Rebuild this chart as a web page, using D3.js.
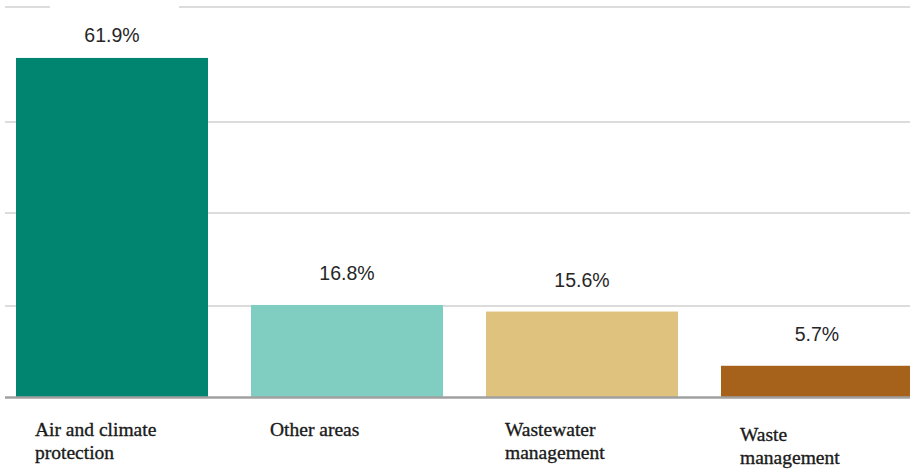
<!DOCTYPE html>
<html>
<head>
<meta charset="utf-8">
<script src="https://cdn.jsdelivr.net/npm/d3@7"></script>
<style>
  html, body { margin: 0; padding: 0; background: #fff; }
  svg { display: block; }
</style>
</head>
<body>
<svg id="chart" width="910" height="470"></svg>
<script>
const categories = ["Air and climate protection", "Other areas", "Wastewater management", "Waste management"];
const labelLines = [["Air and climate", "protection"], ["Other areas"], ["Wastewater", "management"], ["Waste", "management"]];
const values = [61.9, 16.8, 15.6, 5.7];
const valueLabels = ["61.9%", "16.8%", "15.6%", "5.7%"];
const colors = ["#018571", "#80cdc1", "#dfc27d", "#a6611a"];
const gridValues = [16.6, 33.6, 50.2, 71.2];

const svg = d3.select("#chart");
const baseY = 397;

const x = d3.scaleBand()
  .domain(categories)
  .range([-5.5, 934.5])
  .paddingInner(0.183)
  .paddingOuter(0.0915);

const y = d3.scaleLinear()
  .domain([0, 71.2])
  .range([baseY, 7]);

// gridlines
svg.append("g").selectAll("line")
  .data(gridValues)
  .join("line")
  .attr("x1", 5).attr("x2", 910)
  .attr("y1", d => y(d)).attr("y2", d => y(d))
  .attr("stroke", "#dcdcdc")
  .attr("stroke-width", 2);

// white patch over the top gridline (as in the reference)
svg.append("rect")
  .attr("x", 50).attr("y", y(71.2) - 3)
  .attr("width", 129).attr("height", 6)
  .attr("fill", "#fff");

// bars
svg.append("g").selectAll("rect")
  .data(categories)
  .join("rect")
  .attr("x", d => x(d))
  .attr("y", (d, i) => y(values[i]))
  .attr("width", x.bandwidth())
  .attr("height", (d, i) => y(0) - y(values[i]))
  .attr("fill", (d, i) => colors[i]);

// baseline
svg.append("line")
  .attr("x1", 5).attr("x2", 910)
  .attr("y1", y(0) + 0.5).attr("y2", y(0) + 0.5)
  .attr("stroke", "#a0a0a0")
  .attr("stroke-width", 2.5);

// value labels
svg.append("g").selectAll("text")
  .data(categories)
  .join("text")
  .attr("x", (d, i) => x(d) + x.bandwidth() / 2)
  .attr("y", (d, i) => y(values[i]) - (i === 0 ? 16 : 25))
  .attr("text-anchor", "middle")
  .attr("font-family", "'Liberation Sans', Arial, sans-serif")
  .attr("font-size", "19.5px")
  .attr("fill", "#262626")
  .text((d, i) => valueLabels[i]);

// category labels
const lineOffsets = [0, 0, 0, 5];
const catG = svg.append("g");
categories.forEach((c, i) => {
  const t = catG.append("text")
    .attr("x", x(c) + 19)
    .attr("y", 436 + lineOffsets[i])
    .attr("font-family", "'Liberation Serif', 'Times New Roman', serif")
    .attr("font-size", "19.5px")
    .attr("fill", "#1a1a1a")
    .attr("stroke", "#1a1a1a")
    .attr("stroke-width", 0.35);
  labelLines[i].forEach((ln, j) => {
    t.append("tspan")
      .attr("x", x(c) + 19)
      .attr("dy", j === 0 ? 0 : 23)
      .text(ln);
  });
});
</script>
</body>
</html>
